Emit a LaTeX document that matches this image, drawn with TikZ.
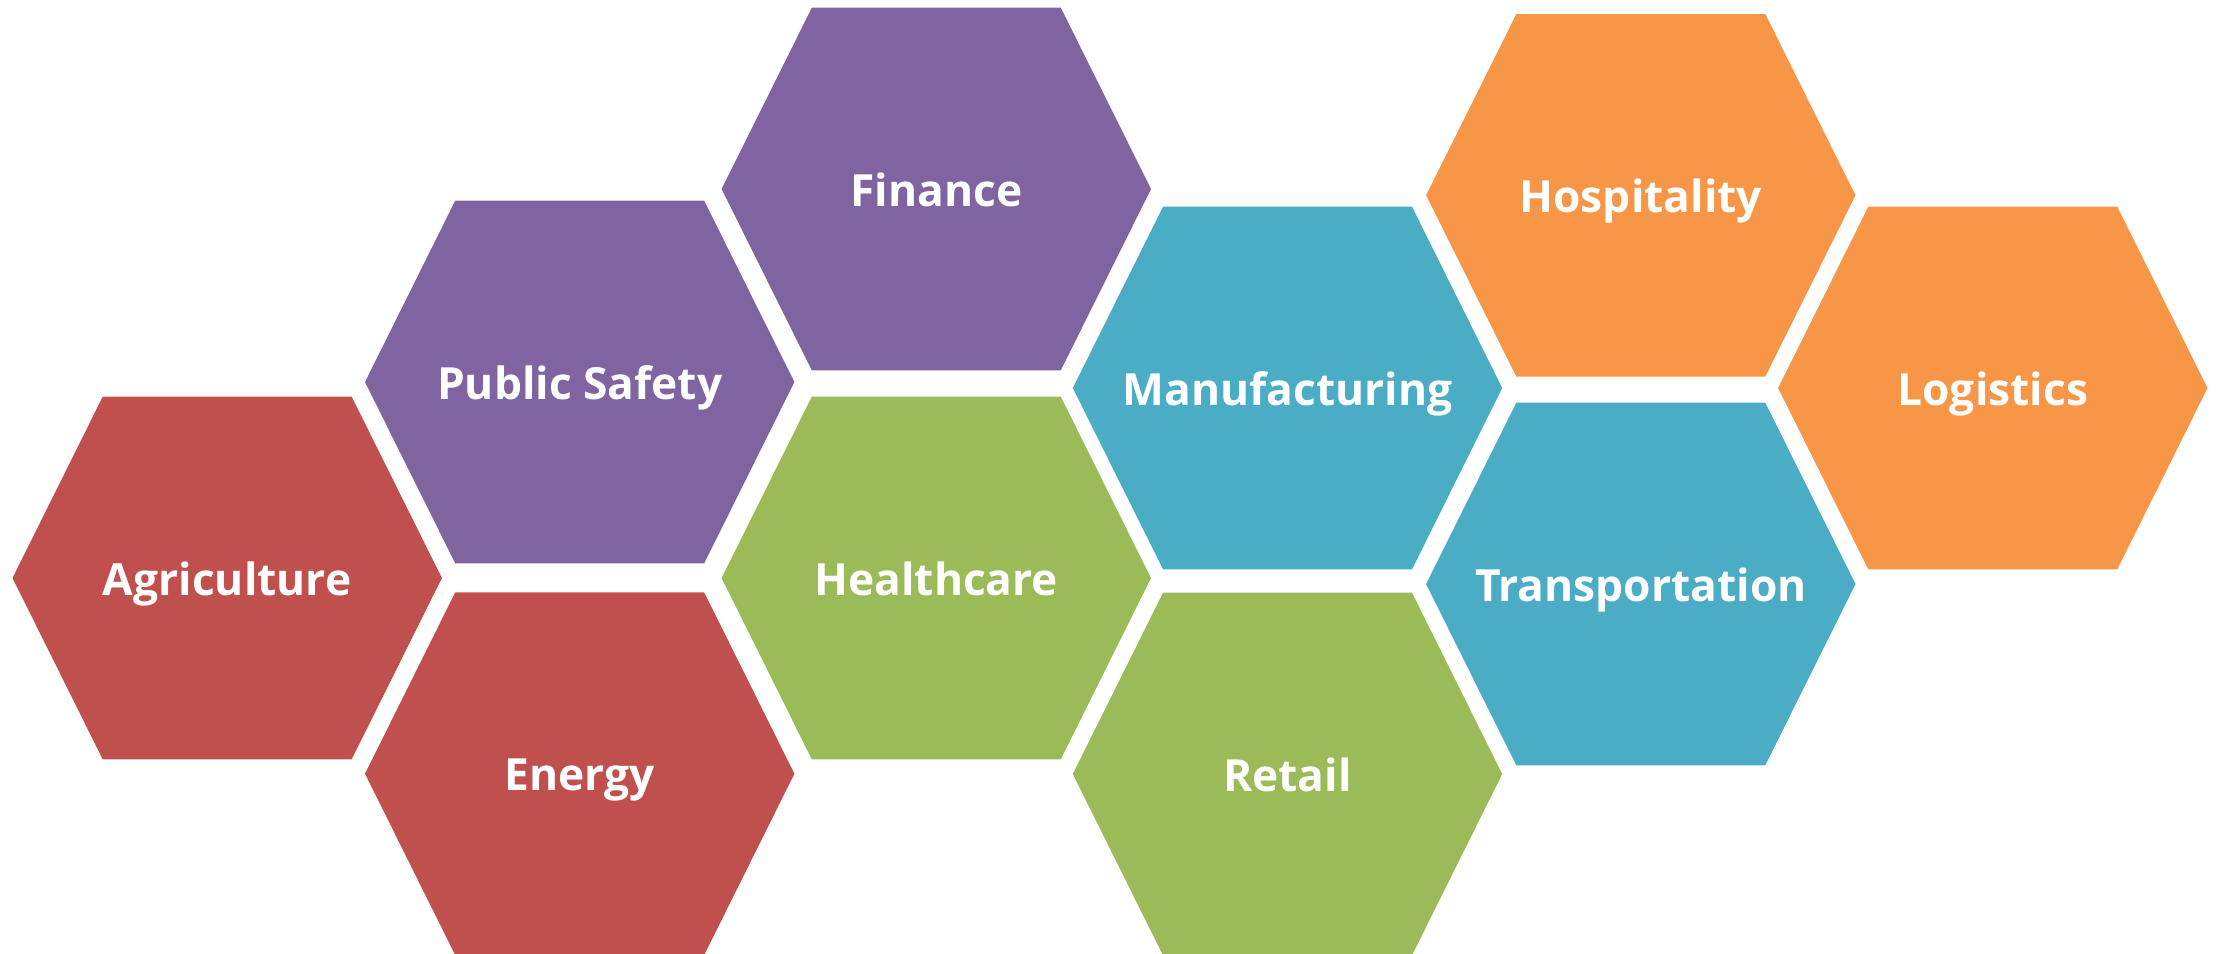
\documentclass[tikz,border=0pt]{standalone}
\usepackage{fontspec}
\setmainfont{Open Sans}
\usepackage{tikz}
\usetikzlibrary{calc}
\definecolor{redcell}{HTML}{C0504D}
\definecolor{purplecell}{HTML}{8064A2}
\definecolor{greencell}{HTML}{9BBB59}
\definecolor{bluecell}{HTML}{4BACC6}
\definecolor{orangecell}{HTML}{F79646}
\tikzset{%
  celltext/.style = {text=white,anchor=base,inner sep=0pt,
        font=\bfseries\fontsize{12.6}{15}\selectfont},
  cell/.style = {fill=#1}
}
% one hexagon with its name in the middle
\newcommand{\hexcell}[5]{%
  \fill[cell=#4] (#2,#3) +(-214.7,0) -- +(-124.5,-181.3) -- +(124.5,-181.3)
     -- +(214.7,0) -- +(124.5,181.3) -- +(-124.5,181.3) -- cycle;
  \node[celltext] (#1) at ($(#2,#3)+(0,17)$) {#5};
}

\begin{document}
\begin{tikzpicture}[x=0.01cm,y=-0.01cm]
    \useasboundingbox (0,0) rectangle (2225,953);
    \hexcell{agri}{227.2}{578}{redcell}{Agriculture}
    \hexcell{safety}{579.7}{382}{purplecell}{Public Safety}
    \hexcell{energy}{579.7}{773.7}{redcell}{Energy}
    \hexcell{finance}{936.3}{189}{purplecell}{Finance}
    \hexcell{health}{936.3}{578}{greencell}{Healthcare}
    \hexcell{manu}{1287.5}{388}{bluecell}{Manufacturing}
    \hexcell{retail}{1287.5}{774}{greencell}{Retail}
    \hexcell{hosp}{1640.8}{195.3}{orangecell}{Hospitality}
    \hexcell{trans}{1640.8}{584}{bluecell}{Transportation}
    \hexcell{logi}{1992.8}{388}{orangecell}{Logistics}
\end{tikzpicture}
\end{document}
